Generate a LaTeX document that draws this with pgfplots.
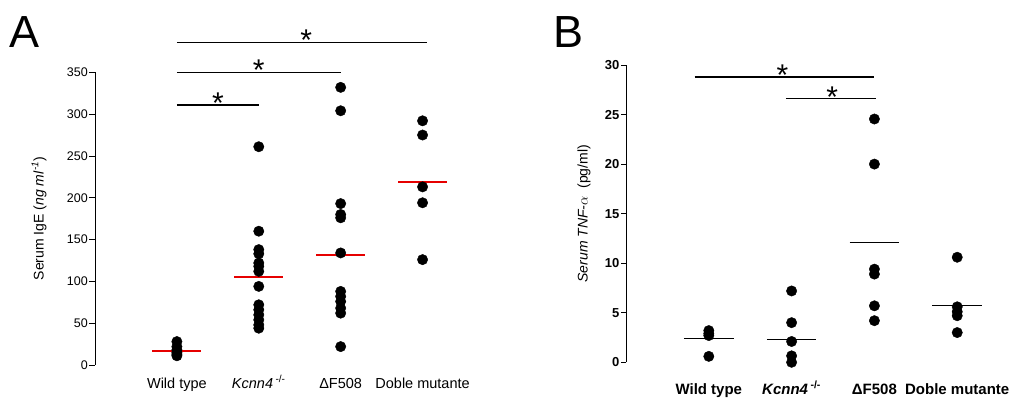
\documentclass[border=0pt]{standalone}
\usepackage{pgfplots}
\pgfplotsset{compat=1.18}
\usepackage{fontspec}
\setmainfont{Liberation Sans}

\pgfplotstableread{
x y
0 28
0 22
0 18
0 15
0 13
0 11
1 261
1 160
1 138
1 133
1 122
1 118
1 112
1 94
1 72
1 66
1 60
1 54
1 48
1 44
2 332
2 304
2 193
2 180
2 176
2 134
2 88
2 82
2 76
2 68
2 62
2 22
3 292
3 275
3 213
3 194
3 126
}\igedata

\pgfplotstableread{
x y
0 3.2
0 2.9
0 2.7
0 0.6
1 7.2
1 4.0
1 2.1
1 0.65
1 0.0
2 24.55
2 20.0
2 9.4
2 8.9
2 5.7
2 4.2
3 10.6
3 5.6
3 5.1
3 4.7
3 3.0
}\tnfdata

\definecolor{meanred}{RGB}{230,0,0}

\begin{document}
\begin{tikzpicture}[x=1pt,y=1pt]
\path[use as bounding box] (0,0) rectangle (1009,397);
\node[anchor=base west, inner sep=0, font=\fontsize{45}{45}\selectfont] at (9,349) {A};
\node[anchor=base west, inner sep=0, font=\fontsize{45}{45}\selectfont] at (553,349) {B};

\begin{axis}[
  at={(95pt,32pt)}, anchor=south west, scale only axis,
  width=376.7pt, height=292.7pt,
  xmin=-1, xmax=3.6, ymin=0, ymax=350,
  axis y line*=left, axis x line*=bottom,
  x axis line style={draw=none},
  xtick={0,1,2,3},
  xticklabels={Wild type, \textit{Kcnn4}\,\textsuperscript{-/-}, ΔF508, Doble mutante},
  xtick style={draw=none},
  ytick={0,50,...,350},
  tick align=outside, major tick length=6pt,
  ytick style={line width=0.8pt, black},
  y axis line style={line width=0.8pt},
  /pgf/number format/assume math mode=true,
  yticklabel style={font=\fontsize{12.5}{12.5}\selectfont, inner sep=1pt},
  xticklabel style={font=\fontsize{14.5}{14.5}\selectfont, anchor=base, yshift=-17pt},
  ylabel={Serum IgE (\textit{ng ml}\textsuperscript{\textit{-1}})},
  ylabel style={font=\fontsize{14}{14}\selectfont, at={([xshift=-56pt]axis description cs:0,0.5)}, anchor=center},
  clip=false,
]
\addplot[only marks, mark=*, mark size=5.2pt, black] table[x=x,y=y] {\igedata};
\addplot[meanred, line width=1.8pt] coordinates {(-0.3,17) (0.3,17)};
\addplot[meanred, line width=1.8pt] coordinates {(0.7,105.5) (1.3,105.5)};
\addplot[meanred, line width=1.8pt] coordinates {(1.7,131.5) (2.3,131.5)};
\addplot[meanred, line width=1.8pt] coordinates {(2.7,219) (3.3,219)};
\addplot[black, line width=1.3pt] coordinates {(0,386) (3.05,386)};
\addplot[black, line width=1.3pt] coordinates {(0,350) (2.0,350)};
\addplot[black, line width=1.3pt] coordinates {(0,311) (1.0,311)};
\node[font=\fontsize{30}{30}\selectfont, inner sep=0] at (axis cs:1.58,388) {*};
\node[font=\fontsize{30}{30}\selectfont, inner sep=0] at (axis cs:1.0,352) {*};
\node[font=\fontsize{30}{30}\selectfont, inner sep=0] at (axis cs:0.5,313) {*};
\end{axis}

\begin{axis}[
  at={(626pt,34.7pt)}, anchor=south west, scale only axis,
  width=380.9pt, height=297.3pt,
  xmin=-1, xmax=3.6, ymin=0, ymax=30,
  axis y line*=left, axis x line*=bottom,
  x axis line style={draw=none},
  xtick={0,1,2,3},
  xticklabels={Wild type, \textit{Kcnn4}\,\textsuperscript{-/-}, ΔF508, Doble mutante},
  xtick style={draw=none},
  ytick={0,5,...,30},
  tick align=outside, major tick length=5pt,
  ytick style={line width=0.8pt, black},
  y axis line style={line width=0.8pt},
  /pgf/number format/assume math mode=true,
  yticklabel style={font=\bfseries\fontsize{13}{13}\selectfont, inner sep=1.5pt},
  xticklabel style={font=\bfseries\fontsize{15}{15}\selectfont, anchor=base, yshift=-26.7pt},
  ylabel={\textit{Serum TNF-}$\alpha$\ \ (pg/ml)},
  ylabel style={font=\fontsize{14}{14}\selectfont, at={([xshift=-42pt]axis description cs:0,0.5)}, anchor=center},
  clip=false,
]
\addplot[only marks, mark=*, mark size=5.2pt, black] table[x=x,y=y] {\tnfdata};
\addplot[black, line width=0.8pt] coordinates {(-0.3,2.42) (0.3,2.42)};
\addplot[black, line width=0.8pt] coordinates {(0.7,2.35) (1.3,2.35)};
\addplot[black, line width=0.8pt] coordinates {(1.7,12.1) (2.3,12.1)};
\addplot[black, line width=0.8pt] coordinates {(2.7,5.78) (3.3,5.78)};
\addplot[black, line width=1.3pt] coordinates {(-0.17,28.8) (2.0,28.8)};
\addplot[black, line width=1.3pt] coordinates {(0.93,26.6) (2.02,26.6)};
\node[font=\fontsize{30}{30}\selectfont, inner sep=0] at (axis cs:0.89,28.95) {*};
\node[font=\fontsize{30}{30}\selectfont, inner sep=0] at (axis cs:1.49,26.8) {*};
\end{axis}
\end{tikzpicture}
\end{document}
